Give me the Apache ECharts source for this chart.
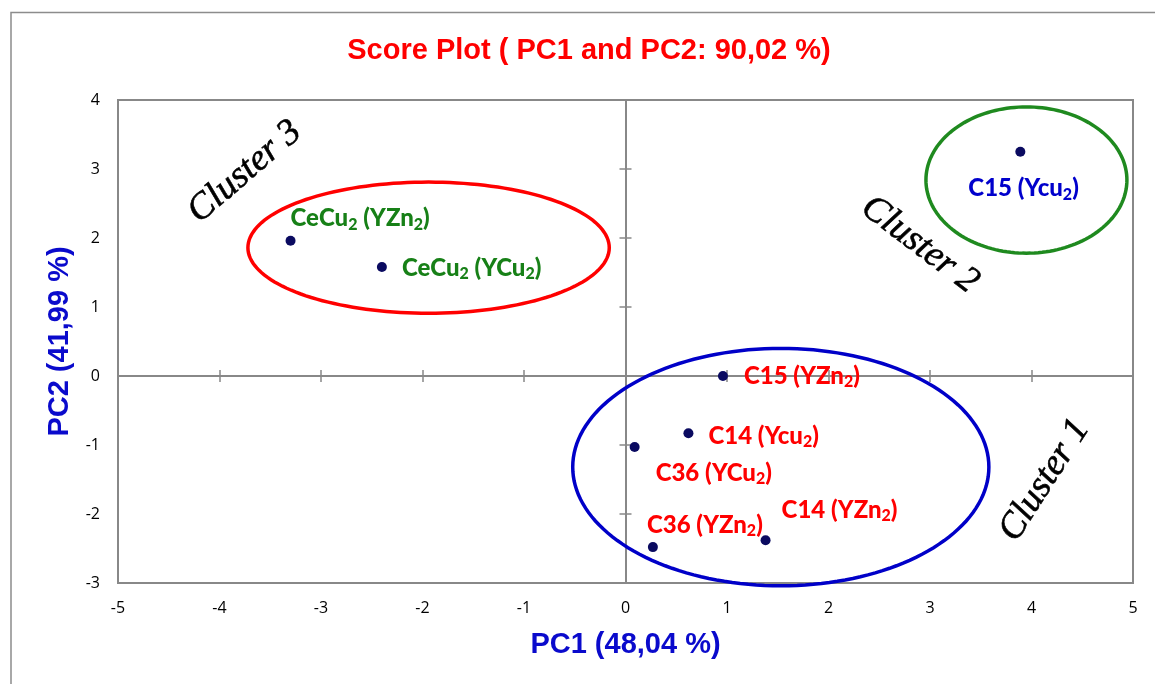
<!DOCTYPE html>
<html><head><meta charset="utf-8">
<script src="https://cdn.jsdelivr.net/npm/echarts@6/dist/echarts.min.js"></script>
<style>html,body{margin:0;padding:0;background:#fff}#c{width:1155px;height:684px}</style>
</head><body><div id="c"></div>
<script>
// ---- data ----
const sampleNames = ['CeCu2 (YZn2)', 'CeCu2 (YCu2)', 'C15 (Ycu2)', 'C15 (YZn2)', 'C14 (Ycu2)', 'C36 (YCu2)', 'C14 (YZn2)', 'C36 (YZn2)'];
const pc1 = [-3.30, -2.40, 3.89, 0.96, 0.62, 0.09, 1.38, 0.27];
const pc2 = [1.96, 1.58, 3.25, 0.00, -0.83, -1.03, -2.38, -2.48];
const sampleCluster = [3, 3, 2, 1, 1, 1, 1, 1];
const xTickValues = [-5, -4, -3, -2, -1, 0, 1, 2, 3, 4, 5];
const yTickValues = [-3, -2, -1, 0, 1, 2, 3, 4];
const clusterNames = ['Cluster 1', 'Cluster 2', 'Cluster 3'];
const clusterIds = [1, 2, 3];
// ellipse centre / radii in data units
const ellipseCx = [1.53, 3.95, -1.94];
const ellipseCy = [-1.32, 2.84, 1.86];
const ellipseRx = [2.05, 0.99, 1.78];
const ellipseRy = [1.72, 1.06, 0.95];
// cluster caption anchor in data units
const captionX = [4.13, 2.90, -3.75];
const captionY = [-1.51, 1.90, 2.96];

// ---- styling (not data) ----
const labelOffsets = [[0, -22], [20, 1], [-52, 37], [21, 0], [20, 3], [21, 26], [16, -30], [-6, -22]];
const ellipseColors = {1: '#0000c8', 2: '#1f8a1f', 3: '#ff0000'};
const labelColors = {1: '#ff0000', 2: '#0000cc', 3: '#178017'};
const captionRotation = [1.0, -0.65, 0.71];
const axisGray = '#888888';

function subText(name) {
  return '{m|' + name.replace(/([A-Za-z])2/g, '$1}{s|2}{m|') + '}';
}
function richFor(c) {
  const col = labelColors[c];
  return {
    m: {fontFamily: 'Lato', fontWeight: 900, fontSize: 24, lineHeight: 28, color: col, verticalAlign: 'middle'},
    s: {fontFamily: 'Lato', fontWeight: 900, fontSize: 16, lineHeight: 12, color: col, verticalAlign: 'bottom'}
  };
}

const scatterData = pc1.map((x, i) => ({
  value: [x, pc2[i]],
  name: sampleNames[i],
  label: {offset: labelOffsets[i], color: labelColors[sampleCluster[i]], rich: richFor(sampleCluster[i])}
}));
const ellipseData = clusterIds.map((k, i) => [ellipseCx[i], ellipseCy[i], ellipseRx[i], ellipseRy[i], k]);
const captionData = clusterIds.map((k, i) => [captionX[i], captionY[i]]);

const xMin = xTickValues[0], xMax = xTickValues[xTickValues.length - 1];
const yMin = yTickValues[0], yMax = yTickValues[yTickValues.length - 1];

const nameStyle = {color: '#0a0acc', fontSize: 29, fontWeight: 'bold', fontFamily: 'Liberation Sans'};
const tickLabelStyle = {fontSize: 16, fontFamily: 'Open Sans', color: '#000'};

function zeroAxis(inside) {
  return {
    type: 'value', min: xMin, max: xMax, interval: 1,
    axisLine: {show: true, onZero: true, onZeroAxisIndex: 0, lineStyle: {color: axisGray, width: 2}},
    axisTick: {show: true, inside: inside, length: 6, lineStyle: {color: axisGray, width: 1.5}},
    axisLabel: {show: false}, splitLine: {show: false}
  };
}
function zeroYAxis(inside) {
  return {
    type: 'value', min: yMin, max: yMax, interval: 1,
    axisLine: {show: true, onZero: true, onZeroAxisIndex: 0, lineStyle: {color: axisGray, width: 2}},
    axisTick: {show: true, inside: inside, length: 6, lineStyle: {color: axisGray, width: 1.5}},
    axisLabel: {show: false}, splitLine: {show: false}
  };
}

const option = {
  backgroundColor: '#fff',
  animation: false,
  title: {
    text: 'Score Plot ( PC1 and PC2: 90,02 %)',
    left: 589, top: 36, textAlign: 'center', padding: 0,
    textStyle: {color: '#ff0000', fontSize: 29, fontWeight: 'bold', fontFamily: 'Liberation Sans'}
  },
  graphic: [{
    type: 'rect', silent: true, z: -10,
    shape: {x: 11, y: 12.5, width: 1300, height: 800},
    style: {fill: 'none', stroke: '#8c8c8c', lineWidth: 1.5}
  }],
  grid: {left: 118, right: 22, top: 100, bottom: 101, show: true, borderColor: axisGray, borderWidth: 2, outerBoundsMode: 'none'},
  xAxis: [
    {
      type: 'value', min: xMin, max: xMax, interval: 1, position: 'bottom',
      axisLine: {show: false, onZero: false}, axisTick: {show: false}, splitLine: {show: false},
      axisLabel: Object.assign({margin: 17}, tickLabelStyle),
      name: 'PC1 (48,04 %)', nameLocation: 'middle', nameGap: 47, nameTextStyle: nameStyle
    },
    zeroAxis(true), zeroAxis(false)
  ],
  yAxis: [
    {
      type: 'value', min: yMin, max: yMax, interval: 1, position: 'left',
      axisLine: {show: false, onZero: false}, axisTick: {show: false}, splitLine: {show: false},
      axisLabel: Object.assign({margin: 18}, tickLabelStyle),
      name: 'PC2 (41,99 %)', nameLocation: 'middle', nameGap: 42, nameRotate: 90, nameTextStyle: nameStyle
    },
    zeroYAxis(true), zeroYAxis(false)
  ],
  series: [
    {
      type: 'custom', coordinateSystem: 'cartesian2d', xAxisIndex: 0, yAxisIndex: 0,
      silent: true, z: 3, encode: {x: 0, y: 1}, data: ellipseData,
      renderItem: function (params, api) {
        const cx = api.value(0), cy = api.value(1), rx = api.value(2), ry = api.value(3), k = api.value(4);
        const pts = [];
        for (let i = 0; i <= 160; i++) {
          const t = i / 160 * 2 * Math.PI;
          pts.push(api.coord([cx + rx * Math.cos(t), cy + ry * Math.sin(t)]));
        }
        return {type: 'polygon', shape: {points: pts}, style: {fill: 'none', stroke: ellipseColors[k], lineWidth: 3.5}};
      }
    },
    {
      type: 'custom', coordinateSystem: 'cartesian2d', xAxisIndex: 0, yAxisIndex: 0,
      silent: true, z: 3, encode: {x: 0, y: 1}, data: captionData,
      renderItem: function (params, api) {
        const p = api.coord([api.value(0), api.value(1)]);
        const i = params.dataIndex;
        return {
          type: 'text', x: p[0], y: p[1], rotation: captionRotation[i],
          style: {text: clusterNames[i], font: 'italic 37px "Liberation Serif"', fill: '#000', stroke: '#000', lineWidth: 0.6, align: 'center', verticalAlign: 'middle'}
        };
      }
    },
    {
      type: 'scatter', xAxisIndex: 0, yAxisIndex: 0, z: 5,
      symbol: 'circle', symbolSize: 10,
      itemStyle: {color: '#0a0a60', opacity: 1},
      emphasis: {disabled: true},
      label: {
        show: true, position: [5, 5], align: 'left', verticalAlign: 'middle', opacity: 1,
        formatter: function (p) { return subText(p.name); }
      },
      data: scatterData
    }
  ]
};
const chart = echarts.init(document.getElementById('c'));
chart.setOption(option);
</script>
</body></html>
